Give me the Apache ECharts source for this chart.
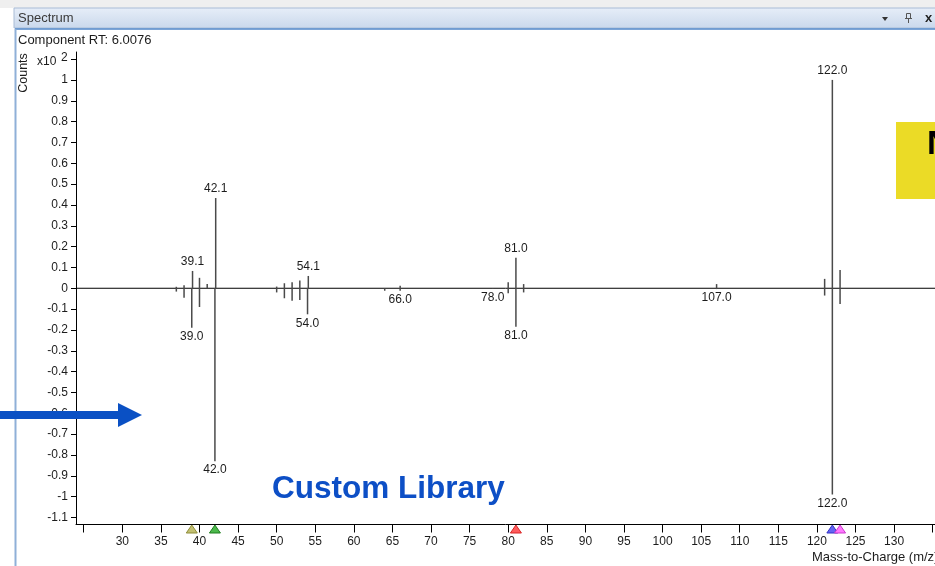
<!DOCTYPE html>
<html>
<head>
<meta charset="utf-8">
<title>Spectrum</title>
<script src="https://cdn.jsdelivr.net/npm/echarts@6/dist/echarts.min.js"></script>
<style>
  html, body { margin: 0; padding: 0; background: #ffffff; }
  #chart { width: 935px; height: 566px; }
</style>
</head>
<body>
<div id="chart"></div>
<script>
// Acquired component spectrum (upper trace), abundances in units of 10^2 counts
const sampleMz    = [37, 38, 39.1, 40, 41, 42.1, 50, 51, 52, 53, 54.1, 66, 80, 81, 82, 107, 121, 122, 123];
const sampleAbund = [0.007, 0.015, 0.083, 0.05, 0.02, 0.433, 0.008, 0.024, 0.029, 0.037, 0.059, 0.012, 0.029, 0.146, 0.02, 0.02, 0.045, 1.0, 0.088];
const sampleLabelled = [39.1, 42.1, 54.1, 81, 122];

// Library reference spectrum (mirrored below the baseline)
const libraryMz    = [37, 38, 39, 40, 42, 50, 51, 52, 53, 54, 64, 66, 78, 80, 81, 82, 107, 121, 122, 123];
const libraryAbund = [0.016, 0.045, 0.19, 0.09, 0.83, 0.02, 0.048, 0.06, 0.056, 0.125, 0.012, 0.012, 0.004, 0.024, 0.185, 0.02, 0.004, 0.035, 0.99, 0.075];
const libraryLabelled = [39, 42, 54, 66, 78, 81, 107, 122];

// Matched-ion markers along the m/z axis
const markerMz = [39, 42, 81, 122, 123];

// Axis ticks
const xTickValues  = [25, 30, 35, 40, 45, 50, 55, 60, 65, 70, 75, 80, 85, 90, 95, 100, 105, 110, 115, 120, 125, 130, 135];
const xLabelValues = [30, 35, 40, 45, 50, 55, 60, 65, 70, 75, 80, 85, 90, 95, 100, 105, 110, 115, 120, 125, 130];
const yTickValues  = [-1.1, -1, -0.9, -0.8, -0.7, -0.6, -0.5, -0.4, -0.3, -0.2, -0.1, 0, 0.1, 0.2, 0.3, 0.4, 0.5, 0.6, 0.7, 0.8, 0.9, 1, 1.1];
const yLabelValues = [-1.1, -1, -0.9, -0.8, -0.7, -0.6, -0.5, -0.4, -0.3, -0.2, -0.1, 0, 0.1, 0.2, 0.3, 0.4, 0.5, 0.6, 0.7, 0.8, 0.9, 1];

const X_MIN = 24, X_MAX = 135.3, Y_MIN = -1.134, Y_MAX = 1.134;

const markerStyles = [
  { fill: '#c2c072', stroke: '#8e8c38' },
  { fill: '#4cb84c', stroke: '#1f7f1f' },
  { fill: '#ff5c5c', stroke: '#d92525' },
  { fill: '#6464f4', stroke: '#3030c4' },
  { fill: '#ff78ff', stroke: '#cc38cc' }
];

const FAMILY = '"Liberation Sans", Arial, sans-serif';
const FONT = '12px ' + FAMILY;
const CAPTION = '13px ' + FAMILY;
const TEXT = '#1c1c1c';

function stickData(mz, abund, labelled, sign) {
  return mz.map((m, i) => [m, sign * abund[i], labelled.indexOf(m) >= 0 ? 1 : 0]);
}

function renderStick(params, api) {
  const x = api.value(0), y = api.value(1), lab = api.value(2);
  const p0 = api.coord([x, 0]);
  const p1 = api.coord([x, y]);
  const children = [{
    type: 'line',
    shape: { x1: p0[0], y1: p0[1], x2: p1[0], y2: p1[1] },
    style: { stroke: '#4a4a4a', lineWidth: 1.5 }
  }];
  if (lab) {
    const up = y > 0;
    children.push({
      type: 'text',
      style: {
        text: x.toFixed(1),
        x: p1[0],
        y: up ? p1[1] - 3 : p1[1] + 3,
        align: 'center',
        verticalAlign: up ? 'bottom' : 'top',
        font: FONT,
        fill: TEXT
      }
    });
  }
  return { type: 'group', children };
}

function renderMarker(params, api) {
  const p = api.coord([api.value(0), Y_MIN]);
  const s = markerStyles[params.dataIndex % markerStyles.length];
  return {
    type: 'polygon',
    shape: { points: [[p[0], p[1] + 0.5], [p[0] - 5.5, p[1] + 8.5], [p[0] + 5.5, p[1] + 8.5]] },
    style: { fill: s.fill, stroke: s.stroke, lineWidth: 1 }
  };
}

const chart = echarts.init(document.getElementById('chart'), null, { renderer: 'canvas' });

chart.setOption({
  animation: false,
  backgroundColor: '#ffffff',
  grid: { left: 76, top: 52, right: 0, bottom: 41.5, containLabel: false },
  xAxis: {
    type: 'value',
    min: X_MIN,
    max: X_MAX,
    axisLine: { show: true, onZero: false, lineStyle: { color: '#000', width: 1 } },
    axisTick: { show: true, length: 8, customValues: xTickValues, lineStyle: { color: '#000' } },
    axisLabel: { customValues: xLabelValues, margin: 11, fontSize: 12, fontFamily: FAMILY, color: TEXT },
    splitLine: { show: false }
  },
  yAxis: {
    type: 'value',
    min: Y_MIN,
    max: Y_MAX,
    axisLine: { show: true, onZero: false, lineStyle: { color: '#000', width: 1 } },
    axisTick: { show: true, length: 5, customValues: yTickValues, lineStyle: { color: '#000' } },
    axisLabel: {
      customValues: yLabelValues,
      margin: 8,
      fontSize: 12,
      fontFamily: FAMILY,
      color: TEXT,
      formatter: v => String(Math.round(v * 10) / 10)
    },
    splitLine: { show: false }
  },
  series: [
    {
      type: 'line',
      data: [[X_MIN, 0], [X_MAX, 0]],
      symbol: 'none',
      lineStyle: { color: '#000', width: 1 },
      silent: true,
      z: 1
    },
    {
      name: 'Component',
      type: 'custom',
      renderItem: renderStick,
      data: stickData(sampleMz, sampleAbund, sampleLabelled, 1),
      encode: { x: 0, y: 1 },
      z: 2
    },
    {
      name: 'Library',
      type: 'custom',
      renderItem: renderStick,
      data: stickData(libraryMz, libraryAbund, libraryLabelled, -1),
      encode: { x: 0, y: 1 },
      z: 2
    },
    {
      name: 'Matched',
      type: 'custom',
      renderItem: renderMarker,
      data: markerMz.map(m => [m, Y_MIN]),
      encode: { x: 0, y: 1 },
      clip: false,
      z: 5
    }
  ],
  graphic: [
    // window chrome
    { type: 'rect', shape: { x: 0, y: 0, width: 935, height: 8 }, style: { fill: '#efefef' }, z: 0 },
    { type: 'rect', shape: { x: 14, y: 8, width: 925, height: 20 },
      style: {
        fill: new echarts.graphic.LinearGradient(0, 0, 0, 1, [
          { offset: 0, color: '#e7eef8' }, { offset: 1, color: '#c9d8ec' }
        ]),
        stroke: '#a9bcd6', lineWidth: 1
      }, z: 0 },
    { type: 'text', style: { text: 'Spectrum', x: 18, y: 18, verticalAlign: 'middle', font: CAPTION, fill: '#3a3a3a' } },
    { type: 'polygon', shape: { points: [[882, 17], [888, 17], [885, 21]] }, style: { fill: '#333' } },
    { type: 'rect', shape: { x: 906.5, y: 13.5, width: 4, height: 5 }, style: { fill: 'none', stroke: '#555', lineWidth: 1 } },
    { type: 'line', shape: { x1: 905, y1: 18.5, x2: 912, y2: 18.5 }, style: { stroke: '#555', lineWidth: 1 } },
    { type: 'line', shape: { x1: 908.5, y1: 18.5, x2: 908.5, y2: 23 }, style: { stroke: '#555', lineWidth: 1 } },
    { type: 'text', style: { text: 'x', x: 925, y: 18, verticalAlign: 'middle', font: 'bold 13px ' + FAMILY, fill: '#222' } },
    { type: 'line', shape: { x1: 15, y1: 29, x2: 935, y2: 29 }, style: { stroke: '#4f86c9', lineWidth: 1.5 } },
    { type: 'line', shape: { x1: 15.5, y1: 29, x2: 15.5, y2: 566 }, style: { stroke: '#8fb0d8', lineWidth: 2 } },

    // chart captions
    { type: 'text', style: { text: 'Component RT: 6.0076', x: 18, y: 40, verticalAlign: 'middle', font: CAPTION, fill: TEXT } },
    { type: 'text', x: 24, y: 73, rotation: Math.PI / 2,
      style: { text: 'Counts', x: 0, y: 0, align: 'center', verticalAlign: 'middle', font: '12.5px ' + FAMILY, fill: TEXT } },
    { type: 'text', style: { text: 'x10', x: 37, y: 62, verticalAlign: 'middle', font: FONT, fill: TEXT } },
    { type: 'text', style: { text: '2', x: 61, y: 57.5, verticalAlign: 'middle', font: FONT, fill: TEXT } },
    { type: 'text', style: { text: 'Mass-to-Charge (m/z)', x: 812, y: 557, verticalAlign: 'middle', font: CAPTION, fill: TEXT } },

    // annotations
    { type: 'rect', shape: { x: 0, y: 411, width: 120, height: 8 }, style: { fill: '#0a50c4' }, z: 10 },
    { type: 'polygon', shape: { points: [[118, 403], [142, 415], [118, 427]] }, style: { fill: '#0a50c4' }, z: 10 },
    { type: 'text', style: { text: 'Custom Library', x: 272, y: 489, verticalAlign: 'middle',
      font: 'bold 31.5px ' + FAMILY, fill: '#0d4fc6' }, z: 10 },
    { type: 'rect', shape: { x: 896, y: 122, width: 40, height: 77 }, style: { fill: '#ebdb26' }, z: 10 },
    { type: 'text', style: { text: 'NIST Library', x: 927, y: 145, verticalAlign: 'middle',
      font: 'bold 34px ' + FAMILY, fill: '#000' }, z: 11 }
  ]
});
</script>
</body>
</html>
